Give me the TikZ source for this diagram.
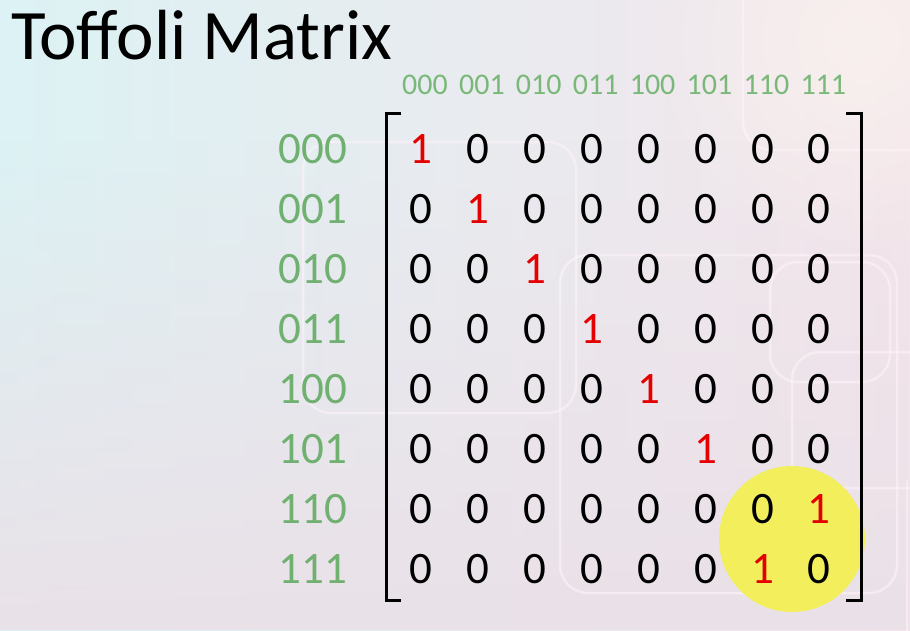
\documentclass[tikz,border=0pt]{standalone}
\usepackage{fontspec}
\setmainfont{Carlito}
\usetikzlibrary{fadings}
\definecolor{lbl}{RGB}{112,176,112}
\definecolor{hdr}{RGB}{122,184,122}
\definecolor{one}{RGB}{228,0,0}
\definecolor{hl}{RGB}{242,238,92}
\definecolor{bgL}{RGB}{220,242,244}
\definecolor{bgR}{RGB}{244,229,235}
\definecolor{bgB}{RGB}{234,225,232}
\definecolor{bgTR}{RGB}{248,240,238}
\definecolor{glow}{RGB}{255,244,250}
\tikzfading[name=fadeup, top color=transparent!100, bottom color=transparent!0]
\tikzfading[name=fadeglow, inner color=transparent!0, outer color=transparent!100]
\begin{document}
\begin{tikzpicture}[x=1pt,y=-1pt,
  entry/.style={anchor=base, inner sep=0pt, font=\fontsize{45}{45}\selectfont},
  rowlbl/.style={anchor=base east, inner sep=0pt, text=lbl, font=\fontsize{45}{45}\selectfont},
  collbl/.style={anchor=base, inner sep=0pt, text=hdr, font=\fontsize{30}{30}\selectfont},
  bracket/.style={draw=black, line width=3pt},
  bgline/.style={draw=glow, opacity=0.55, line width=2.5pt, rounded corners=28pt},
  hilite/.style={circle, fill=hl, minimum size=146pt, inner sep=0pt}]
\useasboundingbox (0,0) rectangle (910,630);
% background
\shade[left color=bgL, right color=bgR] (0,0) rectangle (910,630);
\fill[bgB, path fading=fadeup] (0,140) rectangle (910,630);
\fill[bgTR, path fading=fadeglow] (860,40) circle (220);
\draw[bgline] (303,142) rectangle (576,413);
\draw[bgline] (560,255) rectangle (897,593);
\draw[bgline] (770,262) rectangle (890,382);
\draw[bgline] (792,352) rectangle (940,488);
\draw[bgline] (743,-40) rectangle (940,150);
\draw[bgline] (907,480) -- (907,640);
% highlight
\node[hilite] (hl) at (792,539) {};
% title
\node[anchor=base west, inner sep=0pt, font=\fontsize{71}{71}\selectfont] (title) at (11,59) {Toffoli Matrix};
% labels
\foreach \i/\s in {0/000,1/001,2/010,3/011,4/100,5/101,6/110,7/111}{
  \node[collbl] (c\i) at ({425+56.9*\i},94) {\s};
  \node[rowlbl] (r\i) at (347,{163+60*\i}) {\s};
}
% entries
\foreach \r in {0,...,7}{
  \foreach \c in {0,...,7}{
    \pgfmathtruncatemacro{\t}{((\r<6)&&(\r==\c))||((\r==6)&&(\c==7))||((\r==7)&&(\c==6))}
    \ifnum\t=1
      \node[entry, text=one] (m\r\c) at ({421+56.9*\c},{163+60*\r}) {1};
    \else
      \node[entry] (m\r\c) at ({421+56.9*\c},{163+60*\r}) {0};
    \fi
  }
}
% brackets
\draw[bracket] (401,113) -- (386,113) -- (386,600) -- (401,600);
\draw[bracket] (846,113) -- (861,113) -- (861,600) -- (846,600);
\end{tikzpicture}
\end{document}
